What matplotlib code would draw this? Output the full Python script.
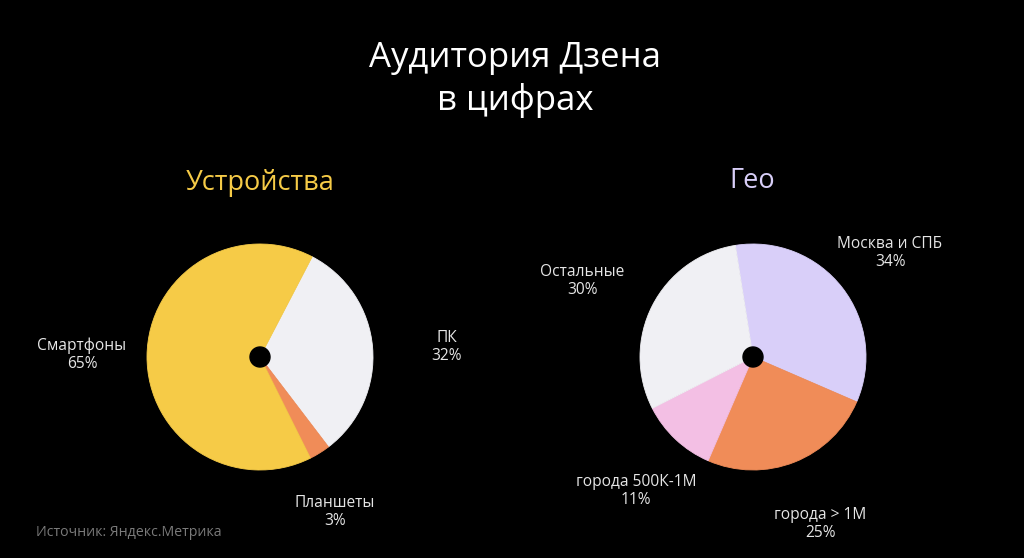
import matplotlib.pyplot as plt
from matplotlib.patches import Circle

plt.rcParams['font.family'] = ['Open Sans', 'DejaVu Sans']

# Data
device_labels = ['ПК', 'Планшеты', 'Смартфоны']
device_values = [32, 3, 65]
device_colors = ['#f0f0f4', '#f08c58', '#f6cb47']

geo_labels = ['Москва и СПБ', 'города > 1М', 'города 500К-1М', 'Остальные']
geo_values = [34, 25, 11, 30]
geo_colors = ['#d9cff9', '#f08c58', '#f3bfe4', '#f0f0f4']

# label positions (pixels from top-left)
device_label_pos = [(447, 347), (335, 512), (82, 355)]
geo_label_pos = [(890, 253), (820, 524), (636, 491), (582, 281)]

W, H = 1024, 558
fig = plt.figure(figsize=(10.24, 5.58), dpi=100, facecolor='black')
ax = fig.add_axes([0, 0, 1, 1])
ax.set_facecolor('black')
ax.set_xlim(0, W)
ax.set_ylim(0, H)
ax.set_aspect('equal')
ax.axis('off')


def y(py):
    return H - py


# Title
ax.text(515, y(58), 'Аудитория Дзена', color='white', fontsize=25,
        ha='center', va='center')
ax.text(515, y(101), 'в цифрах', color='white', fontsize=25,
        ha='center', va='center')

# Subtitles
ax.text(260, y(183), 'Устройства', color='#f6cb47', fontsize=19.5,
        ha='center', va='center')
ax.text(752, y(181), 'Гео', color='#d9cff9', fontsize=19.5,
        ha='center', va='center')

# Pies
r = 113
w1, _ = ax.pie(device_values, colors=device_colors, startangle=62.5,
               counterclock=False, center=(260, y(357)), radius=r)
w2, _ = ax.pie(geo_values, colors=geo_colors, startangle=99,
               counterclock=False, center=(753, y(357)), radius=r)
for w in list(w1) + list(w2):
    w.set_edgecolor(w.get_facecolor())
    w.set_linewidth(0.6)
ax.set_xlim(0, W)
ax.set_ylim(0, H)

for cx in (260, 753):
    ax.add_patch(Circle((cx, y(357)), 10, color='black', zorder=5))

# Labels
for lab, val, (px, py) in zip(device_labels, device_values, device_label_pos):
    ax.text(px, y(py), f'{lab}\n{val}%', color='#e6e6e6', fontsize=11.2,
            ha='center', va='center', linespacing=1.15)
for lab, val, (px, py) in zip(geo_labels, geo_values, geo_label_pos):
    ax.text(px, y(py), f'{lab}\n{val}%', color='#e6e6e6', fontsize=11.2,
            ha='center', va='center', linespacing=1.15)

ax.text(36, y(532), 'Источник: Яндекс.Метрика', color='#7a7a7a', fontsize=10.2,
        ha='left', va='center')

fig.savefig('out.png', dpi=100, facecolor='black')
